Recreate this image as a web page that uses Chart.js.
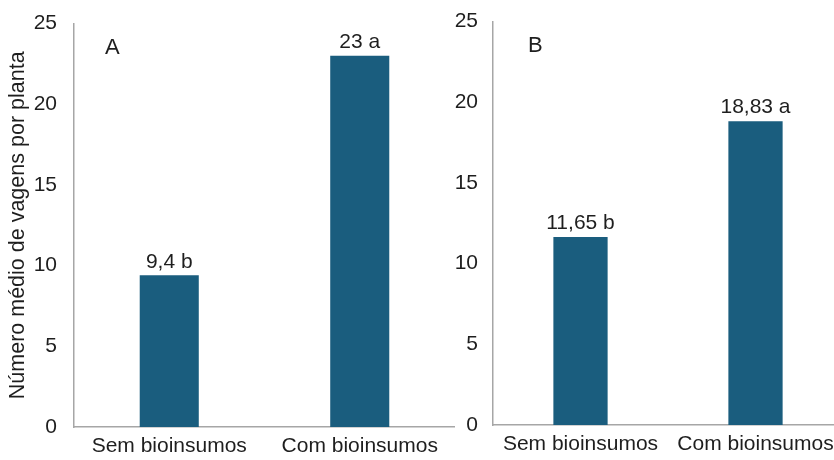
<!DOCTYPE html>
<html>
<head>
<meta charset="utf-8">
<script src="https://cdn.jsdelivr.net/npm/chart.js@4/dist/chart.umd.min.js"></script>
<style>
  html, body { margin: 0; padding: 0; background: #ffffff; width: 834px; height: 460px; overflow: hidden; }
  .panel { position: absolute; top: -6px; }
  #wrapA { left: 0; width: 455px; height: 466px; }
  #wrapB { left: 440px; width: 403px; height: 466px; }
</style>
</head>
<body>
<div class="panel" id="wrapA"><canvas id="chartA" width="455" height="466"></canvas></div>
<div class="panel" id="wrapB"><canvas id="chartB" width="403" height="466"></canvas></div>
<script>
// Treatments
const categories = ['Sem bioinsumos', 'Com bioinsumos'];
// Mean number of pods per plant, trial A and trial B
const valuesA = [9.4, 23];
const valuesB = [11.65, 18.83];
// Mean-comparison letters
const lettersA = ['b', 'a'];
const lettersB = ['b', 'a'];
// Y axis ticks
const yTicks = [0, 5, 10, 15, 20, 25];
const yTitle = 'Número médio de vagens por planta';

const FONT = "'Liberation Sans', Arial, sans-serif";
const TEXT = '#1e1e1e';
const BAR = '#1a5d7e';
const AXIS = '#a6a6a6';
const FS = 21;

const fmt = v => String(v).replace('.', ',');

// Writes "value letter" above each bar and the panel letter in the corner
const annotate = {
  id: 'annotate',
  afterDatasetsDraw(chart, args, opts) {
    const ctx = chart.ctx;
    const meta = chart.getDatasetMeta(0);
    const data = chart.data.datasets[0].data;
    ctx.save();
    ctx.fillStyle = TEXT;
    ctx.font = FS + 'px ' + FONT;
    ctx.textAlign = 'center';
    ctx.textBaseline = 'bottom';
    meta.data.forEach((bar, i) => {
      ctx.fillText(fmt(data[i]) + ' ' + opts.letters[i], bar.x, bar.y - 3);
    });
    ctx.font = '22px ' + FONT;
    ctx.textAlign = 'left';
    ctx.textBaseline = 'middle';
    ctx.fillText(opts.panel, chart.chartArea.left + opts.panelDx, chart.chartArea.top + 24);
    ctx.restore();
  }
};

function makeChart(id, values, letters, panel, panelDx, yWidth, xHeight, showTitle, tickPad) {
  return new Chart(document.getElementById(id), {
    type: 'bar',
    data: {
      labels: categories,
      datasets: [{
        data: values,
        backgroundColor: BAR,
        borderWidth: 0,
        categoryPercentage: 1,
        barPercentage: 0.31
      }]
    },
    options: {
      responsive: false,
      devicePixelRatio: 1,
      animation: false,
      layout: { padding: { top: 15, right: 0, left: 0, bottom: 0 } },
      plugins: {
        legend: { display: false },
        tooltip: { enabled: false },
        annotate: { letters: letters, panel: panel, panelDx: panelDx }
      },
      scales: {
        x: {
          grid: { display: false, drawTicks: false },
          border: { display: true, color: AXIS, width: 1.5 },
          ticks: { color: TEXT, font: { family: FONT, size: FS }, padding: 7, maxRotation: 0, autoSkip: false },
          afterFit(scale) { scale.height = xHeight; }
        },
        y: {
          min: 0,
          max: 25,
          afterBuildTicks(scale) { scale.ticks = yTicks.map(v => ({ value: v })); },
          grid: { display: false, drawTicks: false },
          border: { display: true, color: AXIS, width: 1.5 },
          ticks: { color: TEXT, font: { family: FONT, size: FS }, padding: tickPad },
          title: {
            display: showTitle,
            text: yTitle,
            color: TEXT,
            font: { family: FONT, size: 21.5 },
            padding: { top: 5, bottom: 0 }
          },
          afterFit(scale) { scale.width = yWidth; }
        }
      }
    },
    plugins: [annotate]
  });
}

makeChart('chartA', valuesA, lettersA, 'A', 31, 74, 33, true, 17);
makeChart('chartB', valuesB, lettersB, 'B', 35, 53, 35, false, 15);
</script>
</body>
</html>
